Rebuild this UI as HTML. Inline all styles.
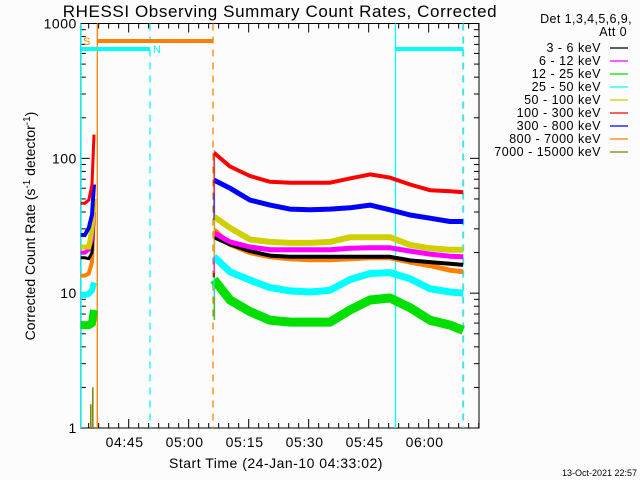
<!DOCTYPE html>
<html><head><meta charset="utf-8"><style>
body{margin:0;background:#fcfcfc;}
svg{display:block;font-family:"Liberation Sans",sans-serif;}
</style></head><body>
<svg id="c" width="640" height="480">
<rect x="0" y="0" width="640" height="480" fill="#fcfcfc"/>
<text x="280" y="17" font-size="17" letter-spacing="0.6" text-anchor="middle" fill="#000">RHESSI Observing Summary Count Rates, Corrected</text>
<text transform="translate(35,226) rotate(-90)" font-size="14" text-anchor="middle" fill="#000">Corrected Count Rate (s<tspan dy="-5" font-size="10">-1</tspan><tspan dy="5"> detector</tspan><tspan dy="-5" font-size="10">-1</tspan><tspan dy="5">)</tspan></text>
<text x="276" y="468" font-size="14" letter-spacing="0.5" text-anchor="middle" fill="#000">Start Time (24-Jan-10 04:33:02)</text>
<text x="637" y="476" font-size="9" text-anchor="end" fill="#000">13-Oct-2021 22:57</text>
<g id="g"></g>
</svg>
<script>
const times = [33.3,37.3,42.3,47.3,52.3,57.3,62.3,67.3,72.3,77.3,82.3,87.3,92.3,95.6];
const earlyTimes = [0,1,2,2.8,3.3];
const seriesNames = ["3 - 6 keV","6 - 12 keV","12 - 25 keV","25 - 50 keV","50 - 100 keV","100 - 300 keV","300 - 800 keV","800 - 7000 keV","7000 - 15000 keV"];
const seriesColors = ["#000000","#ff00ff","#00e000","#00ffff","#d0d000","#ff0000","#0000ff","#ff8000","#808000"];
const red = [110,87,74,67,66,66,66,71,76,72,64,58,57,56];
const blue = [69,60,49,45,42,41.5,42,43,45,41.5,38,36,34,34];
const yellow = [37,30.5,25,24,23.6,23.6,24,26,26,26,22.8,21.5,21,21];
const magenta = [28,24,22,21,21,21,21,21.5,21.7,21.7,20.5,19.5,18.8,18.6];
const black = [26,23,20.5,19,18.6,18.6,18.6,18.6,18.6,18.6,17.5,17,16.5,16.2];
const orange = [29.5,23,20,18.6,18,17.7,17.7,18,18.3,18.3,17,16,14.8,14.4];
const cyan = [18.6,14.4,12.5,11,10.4,10.2,10.5,12.6,14,14.2,12.8,10.8,10.2,10];
const green = [12.6,8.9,7.3,6.3,6.1,6.1,6.1,7.5,8.9,9.2,7.8,6.3,5.8,5.3];
const redEarly = [46.5,46.5,49,64,150];
const blueEarly = [27,27,30.5,38,64];
const yellowEarly = [22,22,22,30,50];
const magentaEarly = [20,20,21,25,40];
const blackEarly = [18.3,18.3,18,20,35];
const orangeEarly = [13.5,13.5,14,17,40];
const cyanEarly = [9.7,9.7,9.9,10.5,12];
const greenEarly = [5.8,5.8,5.8,6,7.5];
const oliveTimes = [2.5,3.0];
const oliveValues = [1.5,2.0];
const xTickLabels = ["04:45","05:00","05:15","05:30","05:45","06:00"];
const xTickMinutes = [11.97,26.97,41.97,56.97,71.97,86.97];
const yTickValues = [1,10,100,1000];

const NS="http://www.w3.org/2000/svg";
const L=80.8,R=479,T=23.5,B=428,tMax=(479-80.8)/4;
function X(t){return L+(t/tMax)*(R-L);}
function Y(v){return B-(Math.log10(v)/3)*(B-T);}
const g=document.getElementById('g');
function el(tag,attrs,parent){const e=document.createElementNS(NS,tag);for(const k in attrs)e.setAttribute(k,attrs[k]);(parent||g).appendChild(e);return e;}

let f=el('rect',{x:L,y:T,width:R-L,height:B-T,fill:'none',stroke:'#000','stroke-width':1});



for(let d=0;d<3;d++){for(let m=1;m<10;m++){const v=Math.pow(10,d)*m;const y=Y(v);const len=m===1?9:5;
 el('line',{x1:L,y1:y,x2:L+len,y2:y,stroke:'#000'});el('line',{x1:R,y1:y,x2:R-len,y2:y,stroke:'#000'});}}
yTickValues.forEach(v=>{const t=el('text',{x:L-4,y:Y(v)+5,'font-size':14,'letter-spacing':0.5,'text-anchor':'end',fill:'#000'});t.textContent=String(v);
 
 });
for(let m=xTickMinutes[0]-15;m<tMax;m+=2.5){if(m<0)continue;const x=X(m);const major=Math.abs(((m-xTickMinutes[0])%15+15)%15)<0.01;const len=major?9:5;
 el('line',{x1:x,y1:B,x2:x,y2:B-len,stroke:'#000'});el('line',{x1:x,y1:T,x2:x,y2:T+len,stroke:'#000'});}
xTickLabels.forEach((s,i)=>{const t=el('text',{x:X(xTickMinutes[i])-4,y:447,'font-size':14,'letter-spacing':0.6,'text-anchor':'middle',fill:'#000'});t.textContent=s;
 
 });

function vline(x,col,dash,name,y1,y2){const l=el('line',{x1:x,y1:y1||T,x2:x,y2:y2||B,stroke:col,'stroke-width':1.3,'stroke-dasharray':dash||'none'});
 
 }
vline(81,'#00ffff',null,'saa-start-line');
vline(97.3,'#ff8000',null,'night-start-line');
vline(150,'#00ffff','7,6','night-end-line');
vline(213,'#ff8000','7,6','saa-end-line');
vline(395.5,'#00ffff',null,'night2-start-line');
vline(463,'#a0a0a0','7,6','data-end-line');
vline(463.5,'#00ffff','7,6','night2-end-line');
vline(214.5,'#909090',null,'data-gap-line',150,320);
function hbar(x1,x2,y,col,name){const l=el('line',{x1:x1,y1:y,x2:x2,y2:y,stroke:col,'stroke-width':4});
 
 }
hbar(97.3,213,41,'#ff8000','saa-bar');
hbar(81,150,49,'#00ffff','night-bar');
hbar(395.5,463.5,49,'#00ffff','night2-bar');
let s1=el('text',{x:83,y:45,'font-size':11,fill:'#ff8000'});s1.textContent='S';


let n1=el('text',{x:153,y:53,'font-size':11,fill:'#00ffff'});n1.textContent='N';



const draw=[[green,greenEarly,2,9],[cyan,cyanEarly,3,7],[orange,orangeEarly,7,5],[black,blackEarly,0,4],[magenta,magentaEarly,1,5],[yellow,yellowEarly,4,6],[blue,blueEarly,6,5],[red,redEarly,5,4]];
draw.forEach(([vals,ev,ci,w])=>{
 const p=vals.map((v,i)=>X(times[i]).toFixed(1)+','+Y(v).toFixed(1));
 const pl=el('polyline',{points:p.join(' '),fill:'none',stroke:seriesColors[ci],'stroke-width':w,'stroke-linejoin':'round'});
 
 
 const pe=ev.map((v,i)=>X(earlyTimes[i]).toFixed(1)+','+Y(v).toFixed(1));
 const pl2=el('polyline',{points:pe.join(' '),fill:'none',stroke:seriesColors[ci],'stroke-width':Math.max(2,w-1)});
 
 
 el('line',{x1:X(times[0]),y1:Y(vals[0]),x2:X(times[0]),y2:Y(vals[0])+40,stroke:seriesColors[ci],'stroke-width':1});
});
oliveTimes.forEach((t,i)=>{const l=el('line',{x1:X(t),y1:B,x2:X(t),y2:Y(oliveValues[i]),stroke:'#808000','stroke-width':1.5});
 
 });

let h1=el('text',{x:632,y:23,'font-size':12.5,'letter-spacing':0.4,'text-anchor':'end',fill:'#000'});h1.textContent='Det 1,3,4,5,6,9,';


let h2=el('text',{x:627,y:36,'font-size':12.5,'letter-spacing':0.4,'text-anchor':'end',fill:'#000'});h2.textContent='Att 0';


seriesNames.forEach((n,i)=>{const y=48+i*13;
 const t=el('text',{x:601,y:y+4,'font-size':12.5,'letter-spacing':0.5,'text-anchor':'end',fill:'#000'});t.textContent=n;
 
 
 el('line',{x1:610,y1:y,x2:628,y2:y,stroke:seriesColors[i],'stroke-width':1.3});});
</script>
</body></html>
